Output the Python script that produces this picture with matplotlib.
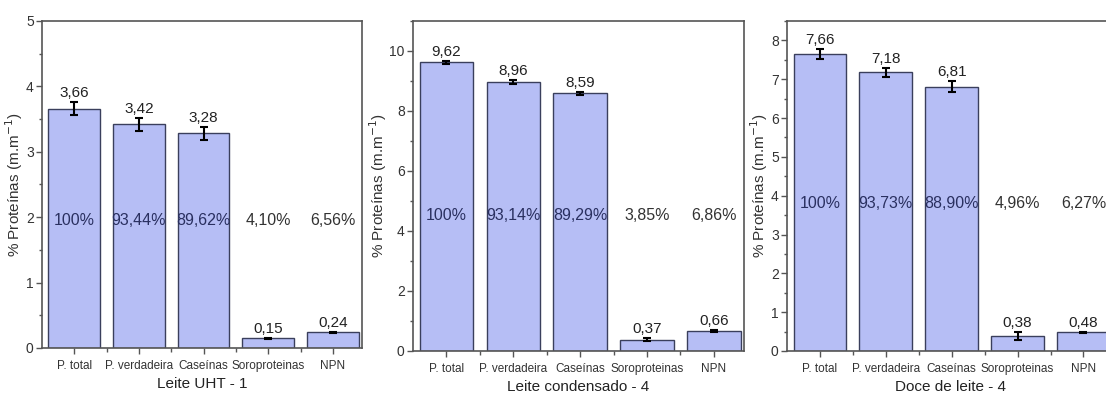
import matplotlib.pyplot as plt
import numpy as np

plt.rcParams['font.family'] = ['Liberation Sans', 'DejaVu Sans']

categorias = ["P. total", "P. verdadeira", "Caseínas", "Soroproteinas", "NPN"]

# Leite UHT - 1
uht_media = [3.66, 3.42, 3.28, 0.15, 0.24]
uht_erro = [0.10, 0.10, 0.10, 0.01, 0.01]
uht_pct = ["100%", "93,44%", "89,62%", "4,10%", "6,56%"]

# Leite condensado - 4
cond_media = [9.62, 8.96, 8.59, 0.37, 0.66]
cond_erro = [0.05, 0.07, 0.05, 0.05, 0.04]
cond_pct = ["100%", "93,14%", "89,29%", "3,85%", "6,86%"]

# Doce de leite - 4
doce_media = [7.66, 7.18, 6.81, 0.38, 0.48]
doce_erro = [0.13, 0.12, 0.14, 0.10, 0.02]
doce_pct = ["100%", "93,73%", "88,90%", "4,96%", "6,27%"]

amostras = ["Leite UHT - 1", "Leite condensado - 4", "Doce de leite - 4"]

fig = plt.figure(figsize=(11.06, 4.01), dpi=100)

posicoes = [[0.038, 0.1322, 0.2893, 0.8155],
            [0.3734, 0.1247, 0.2993, 0.8237],
            [0.7116, 0.1247, 0.2948, 0.823]]
ylims = [5, 11, 8.5]
ymajor = [1, 2, 1]
yminor = [0.5, 1, 0.5]
ypct = [1.95, 4.5, 3.8]
dados = [(uht_media, uht_erro, uht_pct),
         (cond_media, cond_erro, cond_pct),
         (doce_media, doce_erro, doce_pct)]

x = np.arange(len(categorias))
cor_barra = '#b6bef5'
cor_borda = '#3a3f5c'
cor_eixo = '#555555'

for k in range(3):
	ax = fig.add_axes(posicoes[k])
	media, erro, pct = dados[k]
	ax.bar(x, media, width=0.8, color=cor_barra, edgecolor=cor_borda, linewidth=1.0, zorder=2)
	ax.errorbar(x, media, yerr=erro, fmt='none', ecolor='black', elinewidth=1.5, capsize=3, capthick=1.5, zorder=3)
	for i in range(len(x)):
		ax.text(x[i], media[i] + erro[i] + ylims[k]*0.006, ("%.2f" % media[i]).replace('.', ','),
				ha='center', va='bottom', fontsize=11, color='#222222', zorder=4)
		cor_txt = '#2a3060' if i < 3 else '#333333'
		ax.text(x[i], ypct[k], pct[i], ha='center', va='center', fontsize=11.5, color=cor_txt, zorder=4)
	ax.set_xlim(-0.5, 4.45)
	ax.set_ylim(0, ylims[k])
	ax.set_yticks(np.arange(0, ylims[k] + 0.01, ymajor[k]))
	ax.set_yticks(np.arange(0, ylims[k] + 0.01, yminor[k]), minor=True)
	ax.set_xticks(x)
	ax.set_xticks(x[:-1] + 0.5, minor=True)
	ax.set_xticklabels(categorias, fontsize=8.5, color='#333333')
	ax.tick_params(axis='y', labelsize=10, colors='#333333', pad=2)
	ax.tick_params(axis='x', pad=5)
	ax.tick_params(which='major', direction='out', length=4, width=1, color=cor_eixo)
	ax.tick_params(which='minor', direction='out', length=2.5, width=1, color=cor_eixo)
	ax.tick_params(axis='x', which='minor', length=3)
	for s in ax.spines.values():
		s.set_color(cor_eixo)
		s.set_linewidth(1.2)
	ax.set_ylabel("% Proteínas (m.m$^{-1}$)", fontsize=11, color='#333333', labelpad=0.5)
	ax.set_xlabel(amostras[k], fontsize=11, color='#222222', labelpad=3)

fig.savefig("out.png", dpi=100)
